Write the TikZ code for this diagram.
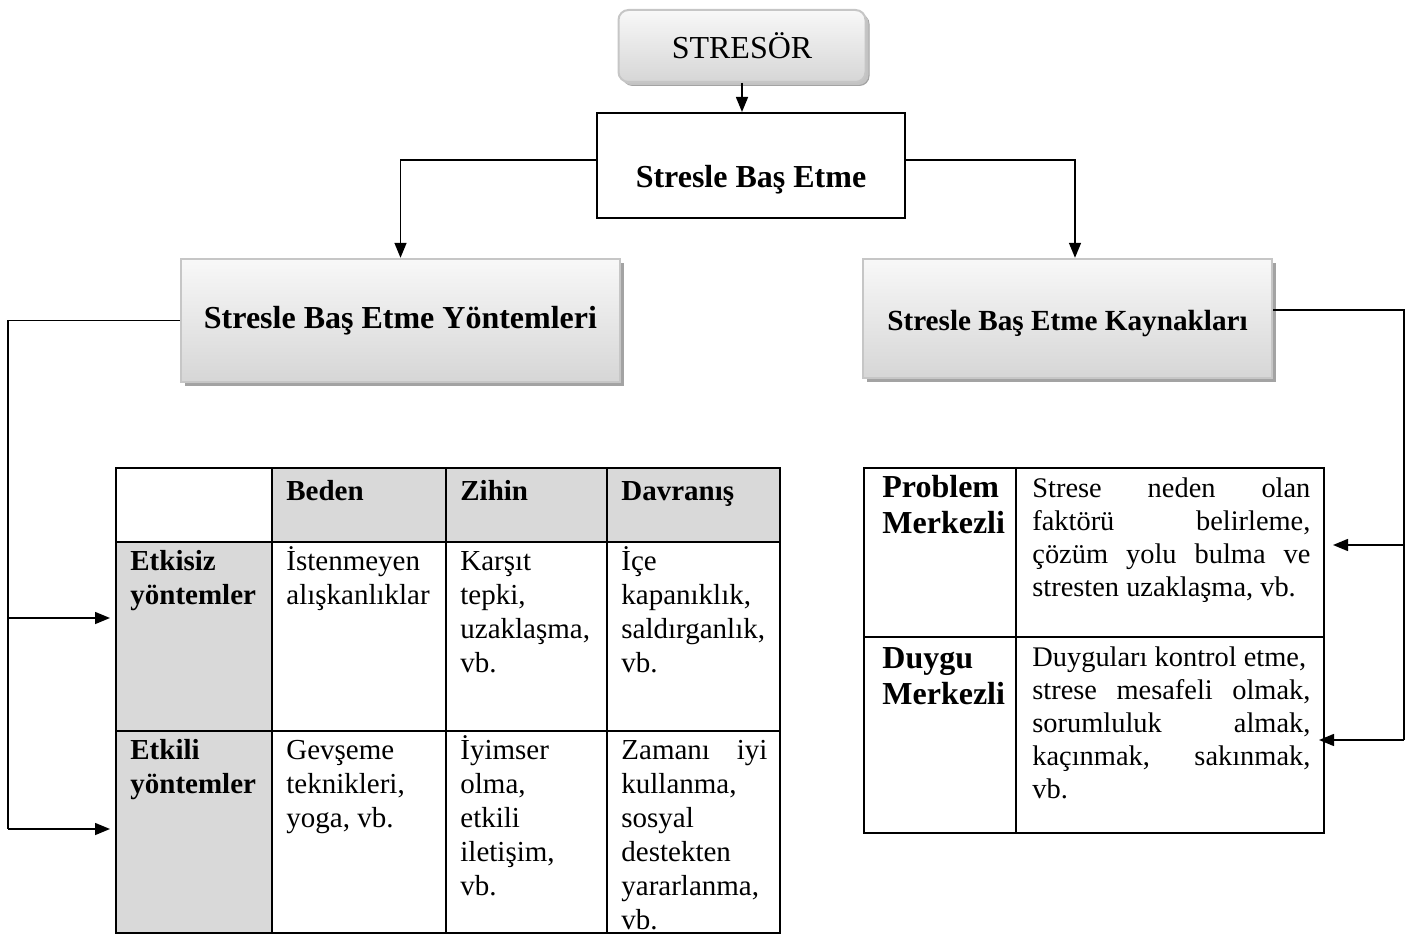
\documentclass[tikz,border=0pt]{standalone}
\usepackage{fontspec}
\setmainfont{Liberation Serif}
\usepackage{tikz}
\usetikzlibrary{arrows.meta,positioning,calc,shadows}
\definecolor{cellgray}{HTML}{D9D9D9}
\definecolor{boxtop}{HTML}{F8F8F8}
\definecolor{boxbot}{HTML}{D6D6D6}
\definecolor{boxrim}{HTML}{C6C6C6}
\definecolor{shadowgray}{HTML}{A3A3A3}
\newcommand{\jline}[2]{\makebox[#1][s]{#2}}
\newcommand{\ts}{\rule{0pt}{14pt}}

\begin{document}
\begin{tikzpicture}[x=0.5pt,y=-0.5pt,>={Triangle[length=7.5pt,width=6pt]},
  conn/.style={line width=0.75pt},
  headbox/.style={rectangle,inner sep=0pt,top color=boxtop,bottom color=boxbot,draw=boxrim,line width=1.2pt,
    drop shadow={shadow xshift=2pt,shadow yshift=-2pt,fill=shadowgray,opacity=1}},
  cell/.style={anchor=north west,inner sep=0pt,align=left,font=\fontsize{14.5}{17}\selectfont},
  hcell/.style={cell,font=\bfseries\fontsize{14.5}{17}\selectfont},
  rcell/.style={cell,font=\fontsize{14.2}{16.5}\selectfont},
  rhcell/.style={cell,font=\bfseries\fontsize{16}{18}\selectfont}]
  \useasboundingbox (0,0) rectangle (1414,936);
  % top of the chart
  \node[headbox,rounded corners=5pt,minimum width=123.5pt,minimum height=36pt,line width=1pt,
    drop shadow={shadow xshift=1.5pt,shadow yshift=-1.5pt,fill=gray!40,opacity=0.8},
    font=\fontsize{16}{19}\selectfont] (stressor) at (742,46) {STRESÖR};
  \node[draw,line width=1pt,minimum width=154pt,minimum height=52.5pt,text height=24pt,text depth=1.5pt,
    font=\bfseries\fontsize{16}{19}\selectfont] (basetme) at (751,165.5) {Stresle Baş Etme};
  \node[headbox,minimum width=219.5pt,minimum height=61.5pt,
    font=\bfseries\fontsize{16}{19}\selectfont] (yontem) at (400.5,320.5) {Stresle Baş Etme Yöntemleri};
  \node[headbox,minimum width=204.5pt,minimum height=59.5pt,text height=13pt,text depth=1pt,
    font=\bfseries\fontsize{14.6}{17}\selectfont] (kaynak) at (1067.5,318.5) {Stresle Baş Etme Kaynakları};
  \draw[conn,->] (stressor.south) -- (stressor.south |- basetme.north);
  \draw[conn,->] ([yshift=2.75pt]basetme.west) -| (yontem.north);
  \draw[conn,->] ([yshift=2.75pt]basetme.east) -| ([xshift=3.75pt]kaynak.north);

  % methods table
  \fill[cellgray] (272,468) rectangle (780,542);
  \fill[cellgray] (116,542) rectangle (272,933);
  \foreach \cx in {272,446,607}
    \draw[line width=1pt] (\cx,468) -- (\cx,933);
  \foreach \cy in {542,731}
    \draw[line width=1pt] (116,\cy) -- (780,\cy);
  \draw[line width=1.2pt] (116,468) rectangle (780,933);
  \node[hcell] (beden) at (286,472) {\ts Beden};
  \node[hcell] (zihin) at (460,472) {\ts Zihin};
  \node[hcell] (davranis) at (621,472) {\ts Davranış};
  \node[hcell] (etkisiz) at (130,542) {\ts Etkisiz\\yöntemler};
  \node[cell] (etkisizb) at (286,542) {\ts İstenmeyen\\alışkanlıklar};
  \node[cell] (etkisizz) at (460,542) {\ts Karşıt\\tepki,\\uzaklaşma,\\vb.};
  \node[cell] (etkisizd) at (621,542) {\ts İçe\\kapanıklık,\\saldırganlık,\\vb.};
  \node[hcell] (etkili) at (130,731) {\ts Etkili\\yöntemler};
  \node[cell] (etkilib) at (286,731) {\ts Gevşeme\\teknikleri,\\yoga, vb.};
  \node[cell] (etkiliz) at (460,731) {\ts İyimser\\olma,\\etkili\\iletişim,\\vb.};
  \node[cell] (etkilid) at (621,731) {\ts\jline{73pt}{Zamanı iyi}\\kullanma,\\sosyal\\destekten\\yararlanma,\\vb.};
  \coordinate (lj1) at (8,618);
  \coordinate (lj2) at (8,829);
  \coordinate (etkisizin) at (110,618);
  \coordinate (etkiliin) at (110,829);
  \draw[conn] (yontem.west) -| (lj2);
  \draw[conn,->] (lj1) -- (etkisizin);
  \draw[conn,->] (lj2) -- (etkiliin);

  % sources table
  \draw[line width=1pt] (1016,468) -- (1016,833);
  \draw[line width=1pt] (864,637) -- (1324,637);
  \draw[line width=1.2pt] (864,468) rectangle (1324,833);
  \node[rhcell] (problem) at (882,469) {\ts Problem\\Merkezli};
  \node[rcell] (problemt) at (1032,469) {\ts\jline{139pt}{Strese neden olan}\\\jline{139pt}{faktörü belirleme,}\\
    \jline{139pt}{çözüm yolu bulma ve}\\stresten uzaklaşma, vb.};
  \node[rhcell] (duygu) at (882,640) {\ts Duygu\\Merkezli};
  \node[rcell] (duygut) at (1032,638) {\ts Duyguları kontrol etme,\\\jline{139pt}{strese mesafeli olmak,}\\
    \jline{139pt}{sorumluluk almak,}\\\jline{139pt}{kaçınmak, sakınmak,}\\vb.};
  \coordinate (rj1) at (1404,545);
  \coordinate (rj2) at (1404,740);
  \coordinate (probin) at (1333,545);
  \coordinate (duyguin) at (1319,740);
  \draw[conn] ([yshift=4.25pt]kaynak.east) -| (rj2);
  \draw[conn,->] (rj1) -- (probin);
  \draw[conn,->] (rj2) -- (duyguin);
\end{tikzpicture}
\end{document}
